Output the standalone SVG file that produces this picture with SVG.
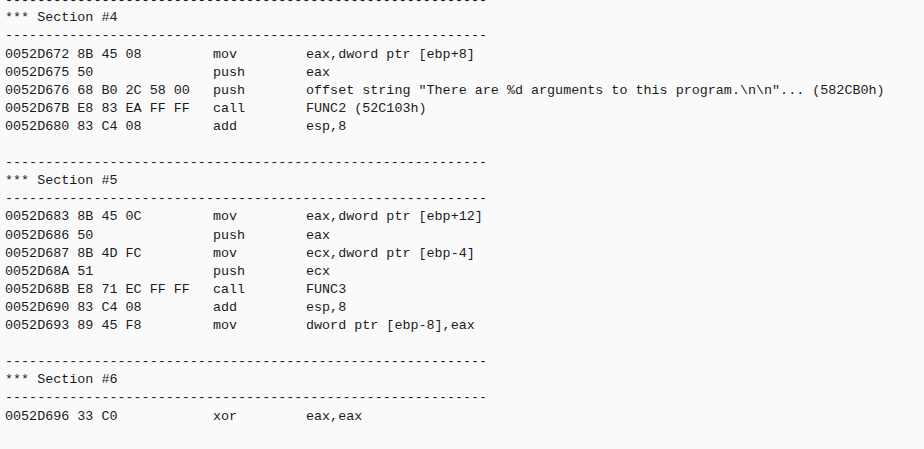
<svg xmlns="http://www.w3.org/2000/svg" width="924" height="449" viewBox="0 0 924 449">
<style>
text{font-family:"Liberation Mono","DejaVu Sans Mono",monospace;font-size:13.4px;fill:#1a1a1a;white-space:pre}
</style>
<rect width="924" height="449" fill="#fafafa"/>
<g id="section4">
<text x="5" y="3.6">------------------------------------------------------------</text>
<text x="5" y="21.3">*** Section #4</text>
<text x="5" y="39.4">------------------------------------------------------------</text>
<text x="5" y="57.5">0052D672 8B 45 08</text><text x="213" y="57.5">mov</text><text x="306" y="57.5">eax,dword ptr [ebp+8]</text>
<text x="5" y="75.6">0052D675 50</text><text x="213" y="75.6">push</text><text x="306" y="75.6">eax</text>
<text x="5" y="93.7">0052D676 68 B0 2C 58 00</text><text x="213" y="93.7">push</text><text x="306" y="93.7">offset string "There are %d arguments to this program.\n\n"... (582CB0h)</text>
<text x="5" y="111.8">0052D67B E8 83 EA FF FF</text><text x="213" y="111.8">call</text><text x="306" y="111.8">FUNC2 (52C103h)</text>
<text x="5" y="129.9">0052D680 83 C4 08</text><text x="213" y="129.9">add</text><text x="306" y="129.9">esp,8</text>
</g>
<g id="section5">
<text x="5" y="166.1">------------------------------------------------------------</text>
<text x="5" y="184.2">*** Section #5</text>
<text x="5" y="202.3">------------------------------------------------------------</text>
<text x="5" y="220.4">0052D683 8B 45 0C</text><text x="213" y="220.4">mov</text><text x="306" y="220.4">eax,dword ptr [ebp+12]</text>
<text x="5" y="238.5">0052D686 50</text><text x="213" y="238.5">push</text><text x="306" y="238.5">eax</text>
<text x="5" y="256.6">0052D687 8B 4D FC</text><text x="213" y="256.6">mov</text><text x="306" y="256.6">ecx,dword ptr [ebp-4]</text>
<text x="5" y="274.7">0052D68A 51</text><text x="213" y="274.7">push</text><text x="306" y="274.7">ecx</text>
<text x="5" y="292.8">0052D68B E8 71 EC FF FF</text><text x="213" y="292.8">call</text><text x="306" y="292.8">FUNC3</text>
<text x="5" y="310.9">0052D690 83 C4 08</text><text x="213" y="310.9">add</text><text x="306" y="310.9">esp,8</text>
<text x="5" y="329">0052D693 89 45 F8</text><text x="213" y="329">mov</text><text x="306" y="329">dword ptr [ebp-8],eax</text>
</g>
<g id="section6">
<text x="5" y="365.2">------------------------------------------------------------</text>
<text x="5" y="383.3">*** Section #6</text>
<text x="5" y="401.4">------------------------------------------------------------</text>
<text x="5" y="419.5">0052D696 33 C0</text><text x="213" y="419.5">xor</text><text x="306" y="419.5">eax,eax</text>
</g>
<g id="connectors"/>
</svg>
